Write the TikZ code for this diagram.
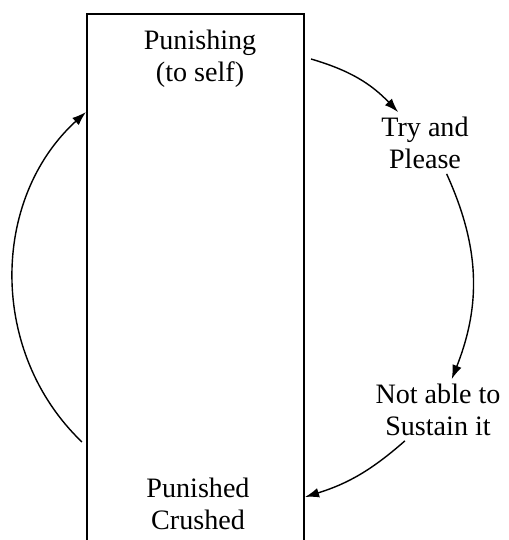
\documentclass[tikz,border=0pt]{standalone}
\usepackage{fontspec}
\setmainfont{Liberation Serif}
\usetikzlibrary{arrows.meta, calc}

\begin{document}
\begin{tikzpicture}[x=0.02cm, y=0.02cm,
    stage/.style={align=center, inner sep=0pt, outer sep=0.1cm,
                  font=\fontsize{16}{18.2}\selectfont},
    flow/.style={-{Latex[length=8pt,width=5.5pt]}, line width=0.8pt}]
    \useasboundingbox (0,0) rectangle (509,540);
    \clip (0,0) rectangle (509,540);
    % open box, running off the bottom
    \node[draw, line width=0.9pt, minimum width=4.34cm, minimum height=11.2cm,
          inner sep=0pt] (frame) at (195.5,246) {};
    \node[stage] (top) at (200,481) {Punishing\\(to self)};
    \node[stage] (try) at (425,397) {Try and\\Please};
    \node[stage] (fail) at (438,130) {Not able to\\Sustain it};
    \node[stage] (bottom) at (198,36) {Punished\\Crushed};
    % ends on the box
    \coordinate (leave) at (311,481);
    \coordinate (enter) at (305,43);
    \coordinate (rise) at (82,98);
    \coordinate (land) at (86,428);
    \draw[flow] (leave) to[bend left=15] (try.131);
    \draw[flow] (try.-55) to[bend left=23] (fail.66);
    \draw[flow] (fail.-137) to[bend left=12] (enter);
    \draw[flow] (rise) to[bend left=47] (land);
\end{tikzpicture}
\end{document}
